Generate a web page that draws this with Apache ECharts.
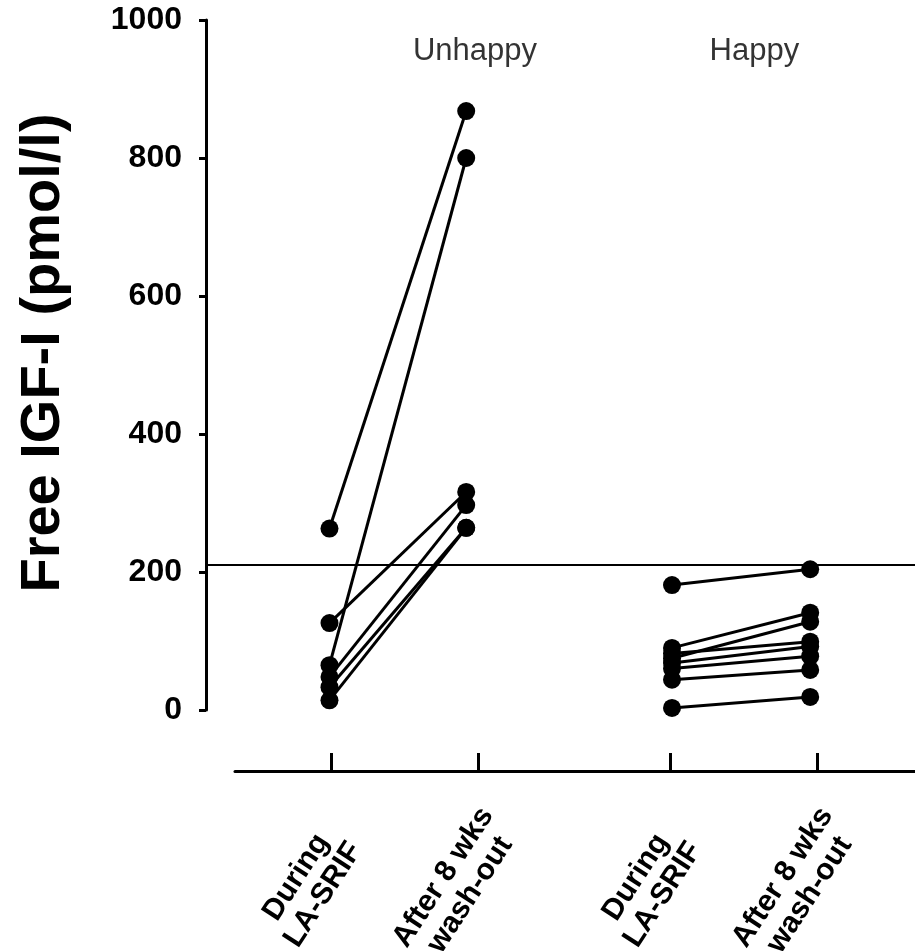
<!DOCTYPE html>
<html>
	<head>
		<meta charset="utf-8">
		<title></title>
		<script src="https://cdn.jsdelivr.net/npm/echarts@6/dist/echarts.min.js"></script>
		<style>
			body { margin: 0; background: #fff; }
		</style>
	</head>
	<body>
		<div id="main" style="width: 915px;height:951px;"></div>
		<script type="text/javascript">
			// x positions of the four columns (ticks), their labels and the dots
			var tickPos = [1, 2, 3.31, 4.31];
			var labelPos = [0.9, 1.9, 3.21, 4.21];
			var tickLabels = ['During\nLA-SRIF', 'After 8 wks\nwash-out', 'During\nLA-SRIF', 'After 8 wks\nwash-out'];
			var pointPos = [0.99, 1.92, 3.32, 4.26];

			// free IGF-I, pmol/l, one entry per patient
			var unhappyDuring = [263, 65, 126, 48, 33, 14];
			var unhappyAfter = [868, 800, 316, 297, 264, 264];
			var happyDuring = [181, 90, 75, 82, 68, 60, 44, 3];
			var happyAfter = [204, 141, 128, 99, 92, 78, 58, 19];

			var cutoff = 210;
			var groupNames = ['Unhappy', 'Happy'];
			var groupLabelX = [1.98, 3.88];
			var groupLabelY = 955;

			var font = 'Liberation Sans, Arial, Helvetica, sans-serif';
			var myChart = echarts.init(document.getElementById('main'));

			var series = [];
			function addGroup(during, after, col) {
				for (var i = 0; i < during.length; i++) {
					series.push({
						type: 'line',
						xAxisIndex: 0,
						yAxisIndex: 0,
						data: [[pointPos[col], during[i]], [pointPos[col + 1], after[i]]],
						symbol: 'circle',
						symbolSize: 18,
						lineStyle: { color: '#000', width: 3 },
						itemStyle: { color: '#000' },
						z: 3
					});
				}
			}
			addGroup(unhappyDuring, unhappyAfter, 0);
			addGroup(happyDuring, happyAfter, 2);

			// normal-range cut-off line
			series.push({
				type: 'line',
				xAxisIndex: 0,
				yAxisIndex: 0,
				data: [],
				markLine: {
					silent: true,
					symbol: 'none',
					label: { show: false },
					lineStyle: { color: '#000', width: 2, type: 'solid' },
					data: [{ yAxis: cutoff }]
				}
			});

			// group titles
			series.push({
				type: 'scatter',
				xAxisIndex: 0,
				yAxisIndex: 0,
				symbolSize: 0,
				data: groupNames.map(function (n, i) {
					return { name: n, value: [groupLabelX[i], groupLabelY] };
				}),
				label: {
					show: true,
					position: 'inside',
					formatter: '{b}',
					color: '#000',
					fontFamily: font,
					fontSize: 31
				}
			});

			var option = {
				animation: false,
				grid: [
					{ left: 206, right: 0, top: 20, bottom: 241, outerBoundsMode: 'none' },
					// only carries the lower, detached category axis
					{ left: 235, right: 0, top: 20, bottom: 180, outerBoundsMode: 'none' }
				],
				xAxis: [
					{
						gridIndex: 0,
						type: 'value',
						min: 0.15,
						max: 4.973,
						show: false
					},
					{
						gridIndex: 1,
						type: 'value',
						min: 0.347,
						max: 4.973,
						axisLine: { show: true, onZero: false, lineStyle: { color: '#000', width: 3 } },
						axisTick: {
							show: true,
							inside: true,
							length: 18,
							lineStyle: { color: '#000', width: 3 },
							customValues: tickPos
						},
						axisLabel: {
							customValues: labelPos,
							rotate: 57,
							align: 'center',
							verticalAlign: 'middle',
							margin: 105,
							padding: [0, 24, 37, 0],
							lineHeight: 32,
							fontFamily: font,
							fontWeight: 'bold',
							fontSize: 30,
							color: '#000',
							formatter: function (v) {
								var idx = labelPos.indexOf(v);
								return idx >= 0 ? tickLabels[idx] : '';
							}
						},
						splitLine: { show: false }
					}
				],
				yAxis: [
					{
						gridIndex: 0,
						type: 'value',
						min: 0,
						max: 1000,
						interval: 200,
						name: 'Free IGF-I (pmol/l)',
						nameLocation: 'middle',
						nameGap: 134,
						nameTextStyle: {
							fontFamily: font,
							fontWeight: 'bold',
							fontSize: 56,
							color: '#000',
							padding: [0, 0, 0, 24]
						},
						axisLine: { show: true, lineStyle: { color: '#000', width: 3 } },
						axisTick: { show: true, length: 7, lineStyle: { color: '#000', width: 3 } },
						axisLabel: {
							margin: 24,
							fontFamily: font,
							fontWeight: 'bold',
							fontSize: 32,
							color: '#000',
							formatter: function (v) { return String(v); }
						},
						splitLine: { show: false }
					},
					{
						gridIndex: 1,
						type: 'value',
						min: 0,
						max: 1000,
						show: false
					}
				],
				series: series
			};

			myChart.setOption(option);
		</script>
	</body>
</html>
